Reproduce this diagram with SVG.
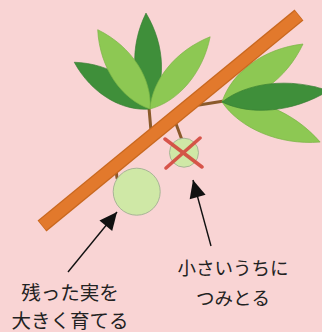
<svg xmlns="http://www.w3.org/2000/svg" xmlns:xlink="http://www.w3.org/1999/xlink" width="322" height="332" viewBox="0 0 322 332">
  <style>
    .dark { fill: #3f8f3a; stroke: #367d32; stroke-width: 0.6; }
    .light { fill: #8dc853; stroke: #7bb446; stroke-width: 0.6; }
    .stem { stroke: #8b5a2b; stroke-width: 3; stroke-linecap: round; fill: none; }
    .fruit { fill: #cfe8a6; stroke: #a8b596; stroke-width: 1; }
    .arrow { stroke: #111; stroke-width: 1.4; fill: none; marker-end: url(#head); }
    .label { font-family: "Noto Sans CJK JP", "Noto Sans", sans-serif; fill: #222; text-anchor: middle; }
  </style>
  <defs>
    <!-- generic leaf: base at origin, tip at (100,0), half-width about 12 -->
    <path id="leaf" d="M0,0 C25,-16 65,-17 100,0 C65,17 25,16 0,0 Z"/>
    <marker id="head" markerUnits="userSpaceOnUse" markerWidth="20" markerHeight="20" viewBox="-16 -8 17 16" refX="0" refY="0" orient="auto">
      <path d="M0,0 L-15,-7 L-15,7 Z" fill="#111"/>
    </marker>
  </defs>

  <rect width="322" height="332" fill="#f9d4d4"/>

  <!-- stems (drawn under the branch) -->
  <g id="stems">
    <line class="stem" x1="149" y1="108" x2="151" y2="131"/>
    <line class="stem" x1="199" y1="105" x2="224" y2="101"/>
    <line class="stem" x1="175" y1="121" x2="182" y2="140"/>
    <line class="stem" x1="116" y1="170" x2="117" y2="178"/>
  </g>

  <!-- left leaf cluster -->
  <g id="leaves-left">
    <use xlink:href="#leaf" class="dark" transform="translate(150,109) rotate(-148.3) scale(0.89,1.05)"/>
    <use xlink:href="#leaf" class="dark" transform="translate(150,109) rotate(-92.4) scale(0.96,1.08)"/>
    <use xlink:href="#leaf" class="light" transform="translate(150,109) rotate(-123.4) scale(0.95,1.15)"/>
    <use xlink:href="#leaf" class="light" transform="translate(150,109) rotate(-50.2) scale(0.94,1.05)"/>
  </g>

  <!-- right leaf cluster -->
  <g id="leaves-right">
    <use xlink:href="#leaf" class="light" transform="translate(222,102) rotate(-35.6) scale(0.996,1.15)"/>
    <use xlink:href="#leaf" class="light" transform="translate(222,102) rotate(22.2) scale(1.06,1.1)"/>
    <use xlink:href="#leaf" class="dark" transform="translate(222,102) rotate(-6) scale(1.07,1.05)"/>
  </g>

  <!-- main branch -->
  <g id="branch">
    <line x1="42" y1="226" x2="299" y2="15" stroke="#c9681f" stroke-width="14"/>
    <line x1="42.5" y1="225.5" x2="298.5" y2="15.5" stroke="#e2792c" stroke-width="11.5"/>
  </g>

  <!-- fruits -->
  <g id="fruit-big">
    <circle class="fruit" cx="136.7" cy="191.7" r="23.5"/>
  </g>
  <g id="fruit-small">
    <circle class="fruit" cx="184" cy="152.7" r="14.5"/>
    <g stroke="#d4473c" stroke-width="3.5" stroke-linecap="round" opacity="0.9">
      <line x1="165" y1="139" x2="202" y2="167"/>
      <line x1="200" y1="138" x2="166" y2="168"/>
    </g>
  </g>

  <!-- connectors -->
  <g id="connectors">
    <line class="arrow" x1="68" y1="272" x2="117" y2="212"/>
    <line class="arrow" x1="211" y1="246" x2="193" y2="180"/>
  </g>

  <!-- labels -->
  <g id="label-keep">
    <text class="label" x="70" y="300" font-size="19.5">残った実を</text>
    <text class="label" x="70" y="327.5" font-size="19.5">大きく育てる</text>
  </g>
  <g id="label-pick">
    <text class="label" x="233" y="274.5" font-size="18.5">小さいうちに</text>
    <text class="label" x="233" y="304.5" font-size="18.5">つみとる</text>
  </g>
</svg>
